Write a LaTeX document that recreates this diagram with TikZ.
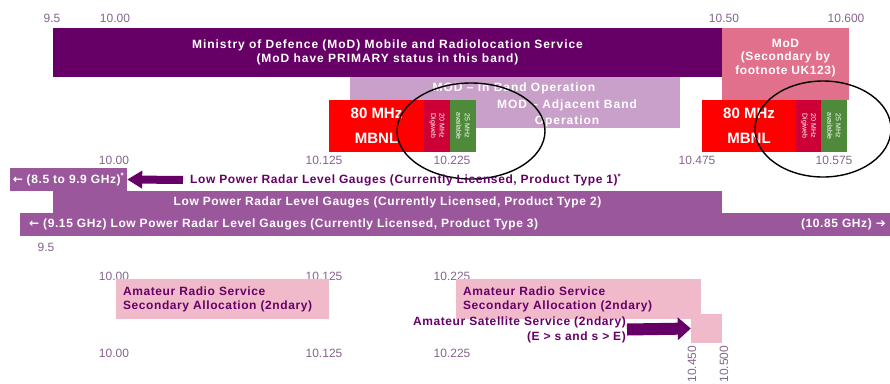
\documentclass[tikz,border=0pt]{standalone}
\usepackage{fontspec}
\setmainfont{Liberation Sans}
\newfontfamily\bandfont[LetterSpace=8]{Liberation Sans}
\newfontfamily\labelfont[LetterSpace=5]{Liberation Sans}
\newfontfamily\arrowfont{DejaVu Sans}
\usetikzlibrary{arrows.meta}
\definecolor{modpurple}{HTML}{660066}
\definecolor{modpink}{HTML}{E0708C}
\definecolor{modlight}{HTML}{C9A0C9}
\definecolor{mbnlred}{HTML}{FF0000}
\definecolor{digicrimson}{HTML}{CC0036}
\definecolor{availgreen}{HTML}{4F8A3B}
\definecolor{lprpurple}{HTML}{9B579B}
\definecolor{hampink}{HTML}{F0BACA}
\definecolor{ticktext}{HTML}{84648C}
\tikzset{
  band/.style={rectangle, inner sep=0pt, align=center, text=white, font=\bandfont\bfseries\fontsize{12}{13.5}\selectfont},
  bandtext/.style={inner sep=0pt, align=center, text=white, font=\bandfont\bfseries\fontsize{12}{16}\selectfont},
  mbnl/.style={rectangle, fill=mbnlred, inner sep=0pt, align=center, text=white, font=\bfseries\fontsize{15}{25}\selectfont},
  slim/.style={rectangle, inner sep=0pt, minimum height=52pt, text=white},
  slimtext/.style={inner sep=0pt, align=center, rotate=-90, text=white, font=\fontsize{7}{8.5}\selectfont},
  tick/.style={inner sep=0pt, text=ticktext, font=\fontsize{12}{13}\selectfont},
  lpr/.style={rectangle, fill=lprpurple, inner sep=0pt, align=center, text=white, font=\labelfont\bfseries\fontsize{12}{13}\selectfont},
  lprtext/.style={inner sep=3pt, text=modpurple, font=\labelfont\bfseries\fontsize{12}{13}\selectfont},
  hambox/.style={rectangle, fill=hampink, inner sep=7pt, align=left, text=modpurple, font=\labelfont\bfseries\fontsize{12}{14}\selectfont, minimum height=30pt},
  ring/.style={draw=black, line width=1.4pt},
  bigarrow/.style={draw=modpurple, line width=8pt, -{Triangle[length=15pt,width=17pt]}}
}
\begin{document}
\begin{tikzpicture}[x=1pt,y=-1pt]
  \useasboundingbox (0,0) rectangle (890,383);
  % frequency marks
  \foreach \x/\t [count=\i] in {52/9.5,115/10.00,724/10.50,846/10.600} {\node[tick] (top\i) at (\x,18) {\t};}
  \foreach \x/\t [count=\i] in {114/10.00,324/10.125,452/10.225,697/10.475,834/10.575} {\node[tick] (mid\i) at (\x,160) {\t};}
  \node[tick] (low) at (46,247) {9.5};
  \foreach \x/\t [count=\i] in {114/10.00,324/10.125,452/10.225} {\node[tick] (ham\i) at (\x,276) {\t};}
  \foreach \x/\t [count=\i] in {114/10.00,324/10.125,452/10.225} {\node[tick] (bot\i) at (\x,353) {\t};}
  \node[tick, rotate=90] (sat1) at (692,364) {10.450};
  \node[tick, rotate=90] (sat2) at (724,364) {10.500};
  % MoD
  \node[band, fill=modpurple, minimum width=669pt, minimum height=49pt] (mod) at (387.5,52.5)
    {Ministry of Defence (MoD) Mobile and Radiolocation Service\\(MoD have PRIMARY status in this band)};
  \node[band, fill=modpink, minimum width=127pt, minimum height=72pt] (modsec) at (785.5,64) {};
  \node[bandtext, font=\labelfont\bfseries\fontsize{12}{13.5}\selectfont] (modsectext) at (785.5,58) {MoD\\(Secondary by\\footnote UK123)};
  \node[band, fill=modlight, minimum width=330pt, minimum height=51pt] (modin) at (515,102.5) {};
  \node[bandtext] (modintext) at (514,88) {MOD – In Band Operation};
  \node[bandtext] (modadj) at (567,113) {MOD – Adjacent Band\\Operation};
  % MBNL blocks
  \node[mbnl, minimum width=95pt, minimum height=52pt] (mbnla) at (376.5,126) {80 MHz\\MBNL};
  \node[slim, fill=digicrimson, minimum width=26pt] (digia) at (437,126) {};
  \node[slimtext] at (digia) {20 MHz\\Digiweb};
  \node[slim, fill=availgreen, minimum width=26pt] (availa) at (463,126) {};
  \node[slimtext] at (availa) {25 MHz\\available};
  \node[mbnl, minimum width=94pt, minimum height=52pt] (mbnlb) at (749,126) {80 MHz\\MBNL};
  \node[slim, fill=digicrimson, minimum width=25pt] (digib) at (808.5,126) {};
  \node[slimtext] at (digib) {20 MHz\\Digiweb};
  \node[slim, fill=availgreen, minimum width=26pt] (availb) at (834,126) {};
  \node[slimtext] at (availb) {25 MHz\\available};
  \draw[ring] (471,131) ellipse [x radius=74pt, y radius=48pt];
  \draw[ring] (823,129) ellipse [x radius=68pt, y radius=48pt];
  % level gauges
  \node[lpr, minimum width=117pt, minimum height=23pt] (lpr0) at (68.5,179.5)
    {{\arrowfont\bfseries ←} (8.5 to 9.9 GHz)\textsuperscript{*}};
  \node[lprtext, anchor=west] (lpr1) at (187,180)
    {Low Power Radar Level Gauges (Currently Licensed, Product Type 1)\textsuperscript{*}};
  \draw[bigarrow, shorten <=4pt] (lpr1.west) -- (lpr0.east);
  \node[lpr, minimum width=669pt, minimum height=22pt] (lpr2) at (387.5,202)
    {Low Power Radar Level Gauges (Currently Licensed, Product Type 2)};
  \node[lpr, minimum width=870pt, minimum height=23pt] (lpr3) at (455,224.5) {};
  \node[lprtext, text=white, anchor=west] (lpr3left) at (26,224.5)
    {{\arrowfont\bfseries ←} (9.15 GHz) Low Power Radar Level Gauges (Currently Licensed, Product Type 3)};
  \node[lprtext, text=white, anchor=east] (lpr3right) at (889,224.5) {(10.85 GHz) {\arrowfont\bfseries ➔}};
  % amateur
  \node[hambox, minimum width=213pt, text width=199pt] (hama) at (222.5,299)
    {Amateur Radio Service\\Secondary Allocation (2ndary)};
  \node[hambox, minimum width=245pt, text width=231pt] (hamb) at (578.5,299)
    {Amateur Radio Service\\Secondary Allocation (2ndary)};
  \node[hambox, inner sep=0pt, minimum width=31pt, minimum height=29pt] (hamsat) at (706.5,328.5) {};
  \node[lprtext, inner sep=1pt, align=right, anchor=east, font=\labelfont\bfseries\fontsize{12}{15}\selectfont] (sattext) at (627,329.5)
    {Amateur Satellite Service (2ndary)\\(E > s and s > E)};
  \draw[bigarrow, line width=12pt, -{Triangle[length=13pt,width=22pt]}] (sattext.east) -- (hamsat.west);
\end{tikzpicture}
\end{document}
